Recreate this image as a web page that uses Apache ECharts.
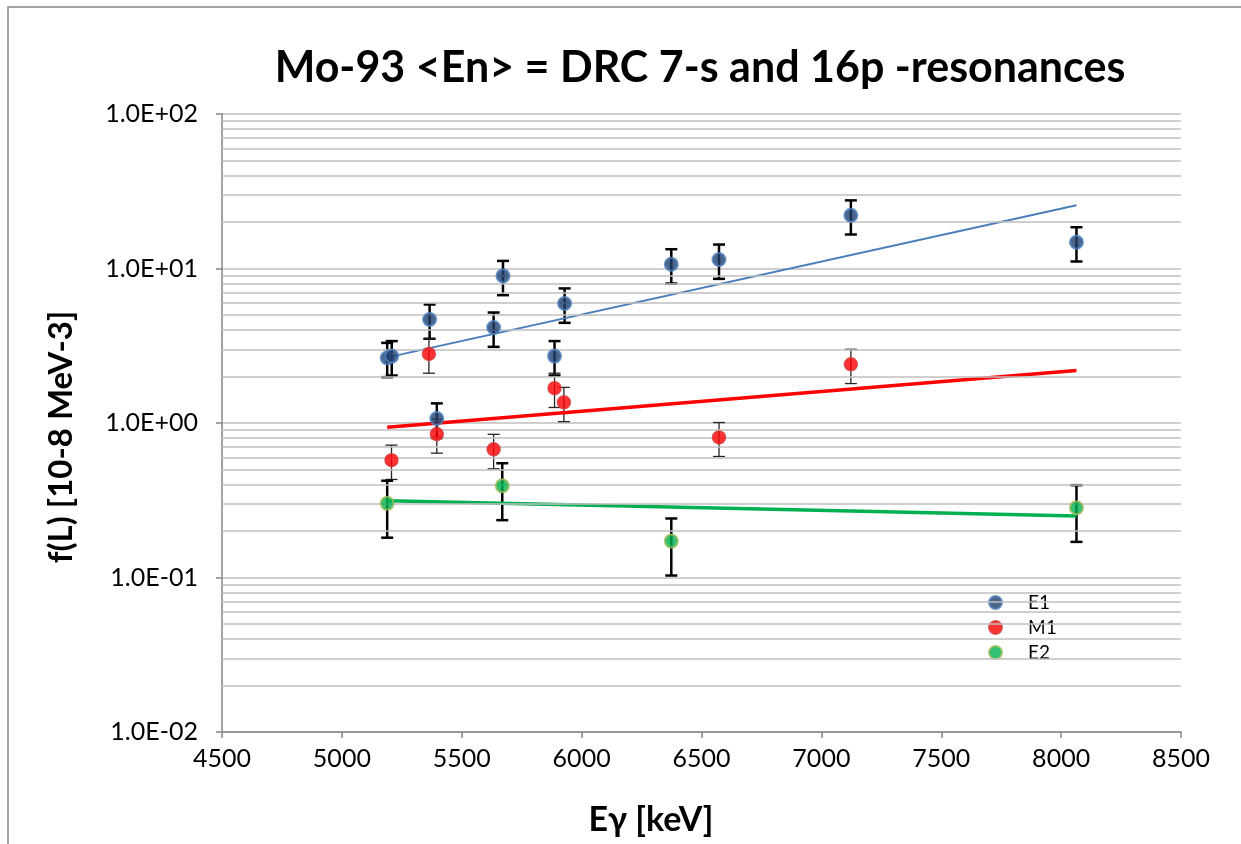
<!DOCTYPE html>
<html>
<head>
<meta charset="utf-8">
<script src="https://cdn.jsdelivr.net/npm/echarts@6/dist/echarts.min.js"></script>
<style>
html,body{margin:0;padding:0;background:#fff;}
#chart{width:1241px;height:844px;}
</style>
</head>
<body>
<div id="chart"></div>
<script>
// ---- Data ----
const titleText = 'Mo-93 <En> = DRC 7-s and 16p -resonances';
const xAxisTitle = 'E\u03b3 [keV]';
const yAxisTitle = 'f(L) [10-8 MeV-3]';
const seriesNames = ['E1', 'M1', 'E2'];

const e1X   = [5189, 5208, 5366, 5396, 5633, 5672, 5887, 5929, 6374, 6573, 7123, 8064];
const e1Y   = [2.64, 2.71, 4.68, 1.07, 4.15, 8.96, 2.71, 5.94, 10.66, 11.43, 22.1, 14.8];
const e1Err = [0.66, 0.68, 1.17, 0.27, 1.04, 2.24, 0.68, 1.49, 2.67, 2.86, 5.5, 3.7];

const m1X   = [5207, 5363, 5396, 5633, 5887, 5926, 6573, 7123];
const m1Y   = [0.575, 2.80, 0.848, 0.675, 1.68, 1.36, 0.807, 2.40];
const m1Err = [0.144, 0.70, 0.21, 0.17, 0.42, 0.34, 0.20, 0.60];

const e2X   = [5189, 5669, 6374, 8064];
const e2Y   = [0.302, 0.392, 0.172, 0.283];
const e2Err = [0.121, 0.157, 0.069, 0.113];

// trend lines (endpoints)
const e1TrendX = [5200, 8064], e1TrendY = [2.68, 25.7];
const m1TrendX = [5189, 8064], m1TrendY = [0.937, 2.19];
const e2TrendX = [5189, 8064], e2TrendY = [0.314, 0.250];

const xTicks = [4500, 5000, 5500, 6000, 6500, 7000, 7500, 8000, 8500];
const yTickLabels = {'-2': '1.0E-02', '-1': '1.0E-01', '0': '1.0E+00', '1': '1.0E+01', '2': '1.0E+02'};
const yMinorMultipliers = [2, 3, 4, 5, 6, 7, 8, 9];
const yDecades = [0.01, 0.1, 1, 10];

// ---- Build ----
const FONT = 'Lato, "Open Sans", sans-serif';
const zip = (xs, ys) => xs.map((x, i) => [x, ys[i]]);
const zipErr = (xs, ys, es) => xs.map((x, i) => [x, ys[i] - es[i], ys[i] + es[i]]);

const minorLines = [];
yDecades.forEach(d => yMinorMultipliers.forEach(m => minorLines.push({yAxis: +(d * m).toPrecision(3)})));

function errRenderer(color, width) {
  return function (params, api) {
    const x = api.value(0);
    const lo = api.coord([x, api.value(1)]);
    const hi = api.coord([x, api.value(2)]);
    const hw = 6;
    const style = {stroke: color, lineWidth: width};
    return {
      type: 'group',
      children: [
        {type: 'line', shape: {x1: lo[0], y1: lo[1], x2: hi[0], y2: hi[1]}, style},
        {type: 'line', shape: {x1: lo[0] - hw, y1: lo[1], x2: lo[0] + hw, y2: lo[1]}, style},
        {type: 'line', shape: {x1: hi[0] - hw, y1: hi[1], x2: hi[0] + hw, y2: hi[1]}, style}
      ]
    };
  };
}

const chart = echarts.init(document.getElementById('chart'), null, {renderer: 'canvas'});
const option = {
  backgroundColor: '#fff',
  animation: false,
  grid: {left: 222, right: 60, top: 114, bottom: 112, containLabel: false},
  graphic: [
    {type: 'rect', shape: {x: 8, y: 7, width: 1260, height: 870}, style: {fill: 'none', stroke: '#868686', lineWidth: 1.5}, silent: true, z: -10},
    {type: 'text', x: 700, y: 68, style: {text: titleText, font: 'bold 43px ' + FONT, fill: '#000', textAlign: 'center', textVerticalAlign: 'middle'}},
    {type: 'text', x: 651, y: 820, style: {text: xAxisTitle, font: 'bold 34px ' + FONT, fill: '#000', textAlign: 'center', textVerticalAlign: 'middle'}},
    {type: 'text', x: 61, y: 437, rotation: Math.PI / 2, style: {text: yAxisTitle, font: 'bold 33px ' + FONT, fill: '#000', textAlign: 'center', textVerticalAlign: 'middle'}}
  ],
  legend: {
    orient: 'vertical', left: 983, top: 588, itemGap: 6, itemWidth: 13, itemHeight: 13,
    data: seriesNames.map(n => ({name: n, icon: 'circle'})),
    textStyle: {fontFamily: FONT, fontSize: 19, lineHeight: 19, color: '#000', padding: [0, 0, 0, 21]}
  },
  xAxis: {
    type: 'value', min: 4500, max: 8500, interval: 500,
    axisLine: {show: true, lineStyle: {color: '#868686', width: 1.5}},
    axisTick: {show: true, inside: false, length: 6, lineStyle: {color: '#868686', width: 1.5}},
    axisLabel: {fontFamily: FONT, fontSize: 25, color: '#000', margin: 14,
      formatter: v => xTicks.includes(v) ? String(v) : ''},
    splitLine: {show: false}
  },
  yAxis: {
    type: 'log', logBase: 10, min: 0.01, max: 100, splitNumber: 4,
    axisLine: {show: true, lineStyle: {color: '#868686', width: 1.5}},
    axisTick: {show: true, inside: false, length: 6, lineStyle: {color: '#868686', width: 1.5}},
    axisLabel: {fontFamily: FONT, fontSize: 25, color: '#000', margin: 24,
      formatter: v => yTickLabels[String(Math.round(Math.log10(v)))] || ''},
    splitLine: {show: true, lineStyle: {color: '#bfbfbf', width: 1.5}}
  },
  series: [
    {
      type: 'line', name: '_grid', data: [], silent: true, z: 0,
      markLine: {silent: true, symbol: ['none', 'none'], label: {show: false},
        lineStyle: {color: '#bfbfbf', width: 1.5, type: 'solid'}, data: minorLines, animation: false}
    },
    {type: 'custom', name: 'E1 err', renderItem: errRenderer('#000', 2.5), data: zipErr(e1X, e1Y, e1Err), z: 3, silent: true, encode: {x: 0, y: [1, 2]}},
    {type: 'custom', name: 'M1 err', renderItem: errRenderer('#262626', 1.3), data: zipErr(m1X, m1Y, m1Err), z: 3, silent: true, encode: {x: 0, y: [1, 2]}},
    {type: 'custom', name: 'E2 err', renderItem: errRenderer('#000', 2.5), data: zipErr(e2X, e2Y, e2Err), z: 3, silent: true, encode: {x: 0, y: [1, 2]}},
    {type: 'line', name: 'E1 trend', data: zip(e1TrendX, e1TrendY), showSymbol: false, symbol: 'none', lineStyle: {color: '#4a7ebb', width: 2}, z: 4, silent: true},
    {type: 'line', name: 'M1 trend', data: zip(m1TrendX, m1TrendY), showSymbol: false, symbol: 'none', lineStyle: {color: '#ff0000', width: 3.5}, z: 4, silent: true},
    {type: 'line', name: 'E2 trend', data: zip(e2TrendX, e2TrendY), showSymbol: false, symbol: 'none', lineStyle: {color: '#00b050', width: 3.5}, z: 4, silent: true},
    {type: 'scatter', name: 'E1', data: zip(e1X, e1Y), symbol: 'circle', symbolSize: 13,
      itemStyle: {color: '#1f3f6e', borderColor: '#4f81bd', borderWidth: 2}, z: 5},
    {type: 'scatter', name: 'M1', data: zip(m1X, m1Y), symbol: 'circle', symbolSize: 13,
      itemStyle: {color: '#ff0000', borderColor: '#d83a3a', borderWidth: 1.5}, z: 5},
    {type: 'scatter', name: 'E2', data: zip(e2X, e2Y), symbol: 'circle', symbolSize: 13,
      itemStyle: {color: '#00b050', borderColor: '#9bbb59', borderWidth: 2}, z: 5}
  ]
};
chart.setOption(option);
</script>
</body>
</html>
